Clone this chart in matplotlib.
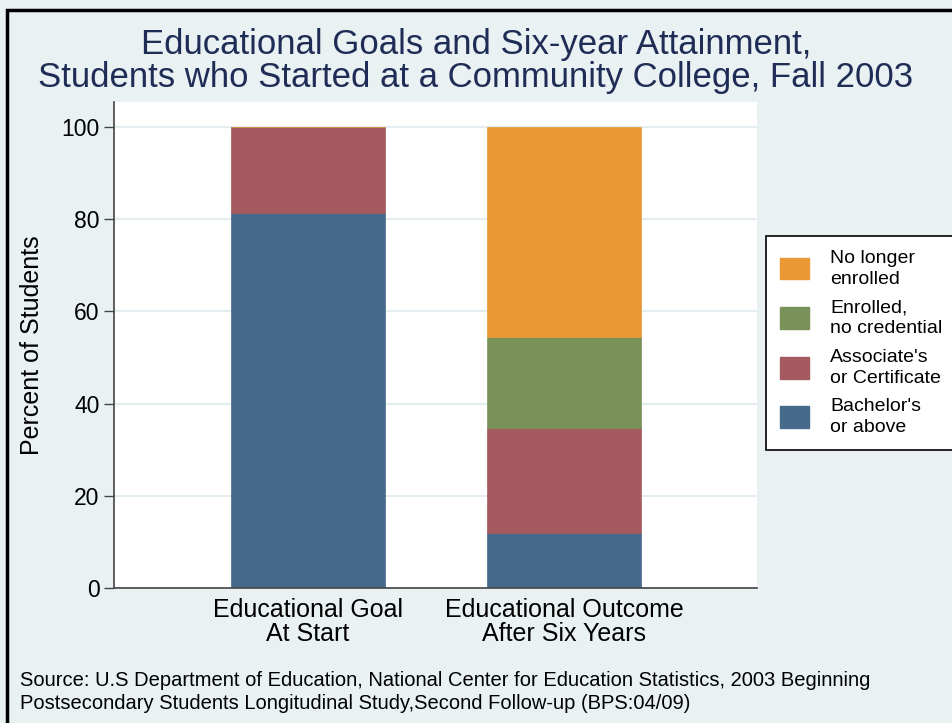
import matplotlib.pyplot as plt
import numpy as np
from matplotlib.patches import Rectangle, Patch

plt.rcParams['font.family'] = ['Liberation Sans', 'DejaVu Sans']

groups = ['Educational Goal\nAt Start', 'Educational Outcome\nAfter Six Years']
series = ["Bachelor's\nor above", "Associate's\nor Certificate",
          'Enrolled,\nno credential', 'No longer\nenrolled']
bachelor = [81.3, 11.9]
associate = [18.7, 22.8]
enrolled = [0.0, 19.7]
no_longer = [0.0, 45.6]
colors = ['#476a8a', '#a45a5e', '#78925a', '#e99835']

bg = '#e9f1f3'
fig = plt.figure(figsize=(9.52, 7.23), dpi=100, facecolor=bg)
ax = fig.add_axes([114/952, 1-588/723, (757-114)/952, (588-102)/723])
ax.set_facecolor('white')

x = np.arange(len(groups))
bottom = np.zeros(len(groups))
for vals, c in zip([bachelor, associate, enrolled, no_longer], colors):
    vals = np.array(vals)
    ax.bar(x, vals, 0.6, bottom=bottom, color=c, edgecolor=c, linewidth=0.5, zorder=2)
    bottom += vals

ax.set_xlim(-0.758, 1.754)
ax.set_ylim(0, 105.4)
ax.set_yticks([0, 20, 40, 60, 80, 100])
ax.yaxis.grid(True, color='#e3edf0', linewidth=1.5, zorder=0)
ax.set_xticks(x)
ax.set_xticklabels(groups, fontsize=18, linespacing=1.0)
ax.tick_params(axis='x', length=0, pad=7)
ax.tick_params(axis='y', labelsize=16.5, length=7.5, width=1, pad=3, color='#444444')
for s in ['top', 'right']:
    ax.spines[s].set_visible(False)
for s in ['left', 'bottom']:
    ax.spines[s].set_color('#444444')
    ax.spines[s].set_linewidth(1.2)
ax.set_ylabel('Percent of Students', fontsize=18, labelpad=12)

fig.text(0.5, 1-61/723, 'Educational Goals and Six-year Attainment,\nStudents who Started at a Community College, Fall 2003',
         ha='center', va='center', fontsize=25, color='#1f2d56', linespacing=0.97)

handles = [Patch(facecolor=c, edgecolor=c) for c in colors]
leg = fig.legend(handles[::-1], series[::-1], loc='upper left',
                 bbox_to_anchor=(766/952, 1-236/723), fontsize=14,
                 frameon=True, fancybox=False, edgecolor='black', framealpha=1,
                 handlelength=1.5, handleheight=1.35, labelspacing=0.6,
                 borderpad=0.7, handletextpad=1.1, borderaxespad=0)
leg.get_frame().set_linewidth(1.2)
for t in leg.get_texts():
    t.set_linespacing(1.3)

fig.text(20/952, 1-692/723,
         'Source: U.S Department of Education, National Center for Education Statistics, 2003 Beginning\n'
         'Postsecondary Students Longitudinal Study,Second Follow-up (BPS:04/09)',
         ha='left', va='center', fontsize=14.5, linespacing=1.3)

fig.patches.append(Rectangle((7/952, -0.05), 1.0, 1.05-10/723, transform=fig.transFigure,
                             fill=False, edgecolor='black', linewidth=2.5))

fig.savefig('out.png', dpi=100, facecolor=bg)
